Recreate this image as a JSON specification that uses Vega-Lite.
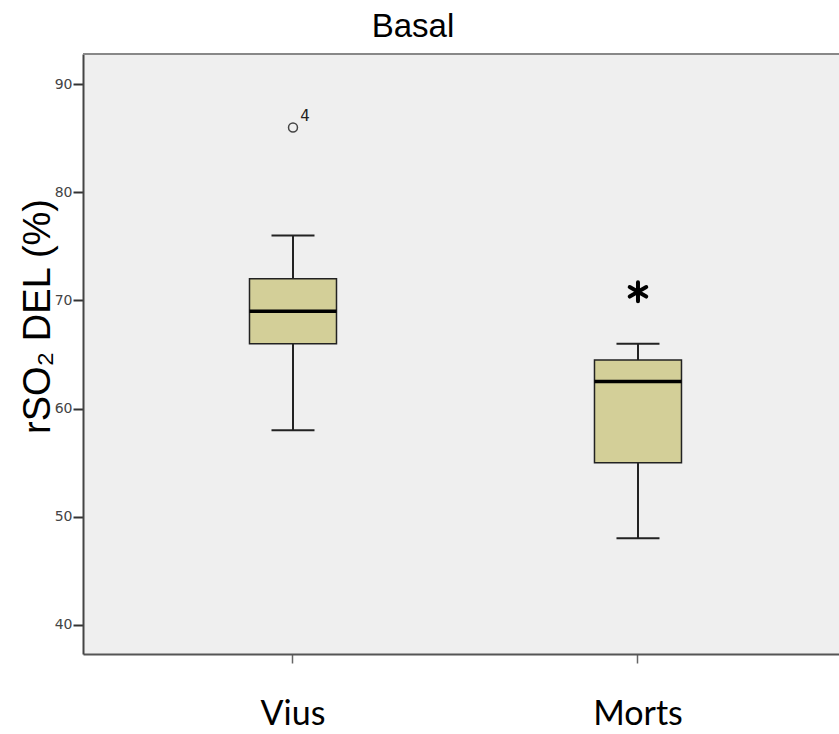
{
  "$schema": "https://vega.github.io/schema/vega-lite/v6.json",
  "width": 756,
  "height": 600,
  "autosize": {"type": "none"},
  "padding": {"left": 83, "top": 54, "right": 0, "bottom": 80},
  "background": "#ffffff",
  "title": {
    "text": "Basal",
    "font": "Liberation Sans",
    "fontSize": 33,
    "fontWeight": "normal",
    "color": "#000000",
    "anchor": "middle",
    "frame": "group",
    "baseline": "alphabetic",
    "offset": 17,
    "dx": -48,
    "dy": 34
  },
  "config": {
    "view": {"stroke": null, "fill": "#efefef"},
    "axis": {"grid": false}
  },
  "datasets": {
    "boxes": [
      {"group": "Vius", "lower": 58, "q1": 66, "median": 69, "q3": 72, "upper": 76},
      {"group": "Morts", "lower": 48, "q1": 55, "median": 62.5, "q3": 64.5, "upper": 66}
    ],
    "outliers": [
      {"group": "Vius", "value": 86, "label": "4"}
    ],
    "extremes": [
      {"group": "Morts", "value": 70.8}
    ],
    "frame": [
      {"top": 92.8}
    ]
  },
  "layer": [
    {
      "encoding": {
        "x": {
          "field": "group",
          "type": "nominal",
          "sort": ["Vius", "Morts"],
          "scale": {"type": "band", "domain": ["Vius", "Morts"], "paddingInner": 0, "paddingOuter": 0.0957, "align": 0.568},
          "axis": {
            "title": null,
            "labelAngle": 0,
            "labelFont": "Lato",
            "labelFontSize": 34,
            "labelColor": "#000000",
            "labelBaseline": "alphabetic",
            "labelPadding": 61,
            "tickSize": 9,
            "tickColor": "#666666",
            "tickWidth": 1.5,
            "domainColor": "#555555",
            "domainWidth": 2
          }
        }
      },
      "layer": [
        {
          "data": {"name": "boxes"},
          "mark": {"type": "rule", "color": "#222222", "strokeWidth": 2},
          "encoding": {
            "y": {
              "field": "lower",
              "type": "quantitative",
              "scale": {"domain": [37.3, 92.8], "nice": false, "zero": false},
              "axis": {
                "values": [40, 50, 60, 70, 80, 90],
                "title": "rSO₂ DEL (%)",
                "titleFont": "Liberation Sans",
                "titleFontSize": 38,
                "titleFontWeight": "normal",
                "titleColor": "#000000",
                "titleAngle": 270,
                "titleAlign": "center",
                "titleBaseline": "alphabetic",
                "titleX": -34,
                "titleY": 262,
                "labelFont": "DejaVu Sans",
                "labelFontSize": 14,
                "labelColor": "#444444",
                "labelPadding": 1,
                "tickSize": 10,
                "tickColor": "#333333",
                "tickWidth": 2,
                "domainColor": "#444444",
                "domainWidth": 2
              }
            },
            "y2": {"field": "upper"}
          }
        },
        {
          "data": {"name": "boxes"},
          "mark": {"type": "tick", "color": "#222222", "opacity": 1, "size": 43, "thickness": 2, "orient": "horizontal"},
          "encoding": {"y": {"field": "lower", "type": "quantitative"}}
        },
        {
          "data": {"name": "boxes"},
          "mark": {"type": "tick", "color": "#222222", "opacity": 1, "size": 43, "thickness": 2, "orient": "horizontal"},
          "encoding": {"y": {"field": "upper", "type": "quantitative"}}
        },
        {
          "data": {"name": "boxes"},
          "mark": {"type": "bar", "size": 87, "fill": "#d3cf98", "stroke": "#222222", "strokeWidth": 1.5, "opacity": 1},
          "encoding": {
            "y": {"field": "q1", "type": "quantitative"},
            "y2": {"field": "q3"}
          }
        },
        {
          "data": {"name": "boxes"},
          "mark": {"type": "tick", "color": "#000000", "opacity": 1, "size": 87, "thickness": 3.5, "orient": "horizontal"},
          "encoding": {"y": {"field": "median", "type": "quantitative"}}
        },
        {
          "data": {"name": "outliers"},
          "mark": {"type": "point", "shape": "circle", "filled": false, "size": 80, "stroke": "#444444", "strokeWidth": 1.5, "opacity": 1},
          "encoding": {"y": {"field": "value", "type": "quantitative"}}
        },
        {
          "data": {"name": "outliers"},
          "mark": {"type": "text", "font": "DejaVu Sans", "fontSize": 15, "color": "#222222", "dx": 12, "dy": -12, "align": "center", "baseline": "middle"},
          "encoding": {
            "y": {"field": "value", "type": "quantitative"},
            "text": {"field": "label"}
          }
        },
        {
          "data": {"name": "extremes"},
          "mark": {"type": "point", "shape": "M0,-1L0,1M-0.87,-0.5L0.87,0.5M-0.87,0.5L0.87,-0.5", "filled": false, "size": 361, "stroke": "#000000", "strokeWidth": 4, "strokeCap": "round", "opacity": 1},
          "encoding": {"y": {"field": "value", "type": "quantitative"}}
        }
      ]
    },
    {
      "data": {"name": "frame"},
      "mark": {"type": "rule", "color": "#888888", "strokeWidth": 2},
      "encoding": {"y": {"field": "top", "type": "quantitative"}}
    }
  ]
}
